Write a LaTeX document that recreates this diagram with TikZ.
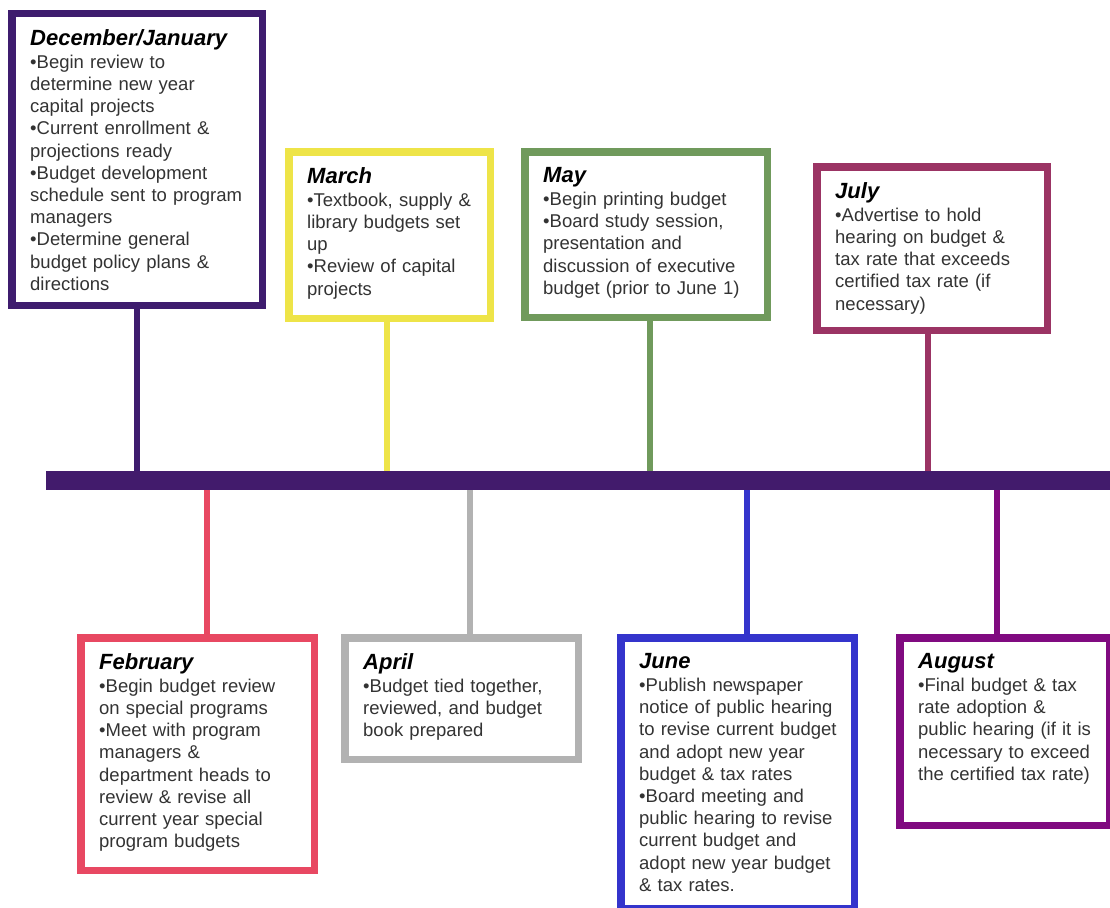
\documentclass[tikz,border=0pt]{standalone}
\usepackage{fontspec}
\setmainfont{Liberation Sans}
\usetikzlibrary{positioning}

\definecolor{decjancol}{RGB}{62,28,110}
\definecolor{barcol}{RGB}{66,27,108}
\definecolor{marchcol}{RGB}{238,228,72}
\definecolor{maycol}{RGB}{112,154,92}
\definecolor{julycol}{RGB}{155,52,100}
\definecolor{febcol}{RGB}{232,72,98}
\definecolor{aprilcol}{RGB}{178,178,178}
\definecolor{junecol}{RGB}{52,52,204}
\definecolor{augustcol}{RGB}{128,10,128}

\tikzset{
  monthbox/.style={draw=#1,line width=7.5pt,inner sep=0pt,fill=white},
  monthtext/.style={inner sep=0pt,anchor=north west,align=left,text width=250pt,
    text=black!80,font=\fontsize{18.5}{22.2}\selectfont},
  stemline/.style={line width=6pt}
}
\newcommand{\mtitle}[1]{{\color{black}\fontsize{22}{22}\selectfont\bfseries\itshape #1}\\[1pt]}

\begin{document}
\begin{tikzpicture}[x=1pt,y=-1pt]
\useasboundingbox[fill=white] (0,0) rectangle (1110,907);
% the time line
\node[fill=barcol,minimum width=1070pt,minimum height=19pt,inner sep=0pt,anchor=west] (bar) at (46,480.5) {};
% boxes above the line
\node[monthbox=decjancol,minimum width=250.5pt,minimum height=291.5pt] (decjan) at (137,159.5) {};
\node[monthbox=marchcol,minimum width=201.5pt,minimum height=166.5pt] (march) at (389.5,235) {};
\node[monthbox=maycol,minimum width=242.5pt,minimum height=165.5pt] (may) at (646,234.5) {};
\node[monthbox=julycol,minimum width=230.5pt,minimum height=163.5pt] (july) at (932,248.5) {};
% boxes below the line
\node[monthbox=febcol,minimum width=233.5pt,minimum height=232.5pt] (feb) at (197.5,754) {};
\node[monthbox=aprilcol,minimum width=233.5pt,minimum height=121.5pt] (april) at (461.5,698.5) {};
\node[monthbox=junecol,minimum width=233.5pt,minimum height=270.5pt] (june) at (737.5,773) {};
\node[monthbox=augustcol,minimum width=209.5pt,minimum height=187.5pt] (august) at (1004.5,731.5) {};

\node[monthtext,below right=19pt and 22pt of decjan.north west] (decjantext) {\mtitle{December/January}
•Begin review to\\ determine new year\\ capital projects\\ •Current enrollment \&\\ projections ready\\
•Budget development\\ schedule sent to program\\ managers\\ •Determine general\\ budget policy plans \&\\ directions};
\node[monthtext,below right=19pt and 22pt of march.north west] (marchtext) {\mtitle{March}
•Textbook, supply \&\\ library budgets set\\ up\\ •Review of capital\\ projects};
\node[monthtext,below right=19pt and 22pt of may.north west] (maytext) {\mtitle{May}
•Begin printing budget\\ •Board study session,\\ presentation and\\ discussion of executive\\ budget (prior to June 1)};
\node[monthtext,below right=19pt and 22pt of july.north west] (julytext) {\mtitle{July}
•Advertise to hold\\ hearing on budget \&\\ tax rate that exceeds\\ certified tax rate (if\\ necessary)};
\node[monthtext,below right=19pt and 22pt of feb.north west] (febtext) {\mtitle{February}
•Begin budget review\\ on special programs\\ •Meet with program\\ managers \&\\ department heads to\\
review \& revise all\\ current year special\\ program budgets};
\node[monthtext,below right=19pt and 22pt of april.north west] (apriltext) {\mtitle{April}
•Budget tied together,\\ reviewed, and budget\\ book prepared};
\node[monthtext,below right=19pt and 22pt of june.north west] (junetext) {\mtitle{June}
•Publish newspaper\\ notice of public hearing\\ to revise current budget\\ and adopt new year\\ budget \& tax rates\\
•Board meeting and\\ public hearing to revise\\ current budget and\\ adopt new year budget\\ \& tax rates.};
\node[monthtext,below right=19pt and 22pt of august.north west] (augusttext) {\mtitle{August}
•Final budget \& tax\\ rate adoption \&\\ public hearing (if it is\\ necessary to exceed\\ the certified tax rate)};

% stems
\draw[stemline,decjancol] (decjan.south) -- (decjan.south |- bar.north);
\draw[stemline,marchcol] ([xshift=-2.5pt]march.south) -- ([xshift=-2.5pt]march.south |- bar.north);
\draw[stemline,maycol] ([xshift=4pt]may.south) -- ([xshift=4pt]may.south |- bar.north);
\draw[stemline,julycol] ([xshift=-4pt]july.south) -- ([xshift=-4pt]july.south |- bar.north);
\draw[stemline,febcol] ([xshift=9.5pt]feb.north) -- ([xshift=9.5pt]feb.north |- bar.south);
\draw[stemline,aprilcol] ([xshift=8.5pt]april.north) -- ([xshift=8.5pt]april.north |- bar.south);
\draw[stemline,junecol] ([xshift=9.5pt]june.north) -- ([xshift=9.5pt]june.north |- bar.south);
\draw[stemline,augustcol] ([xshift=-7.5pt]august.north) -- ([xshift=-7.5pt]august.north |- bar.south);
\end{tikzpicture}
\end{document}
